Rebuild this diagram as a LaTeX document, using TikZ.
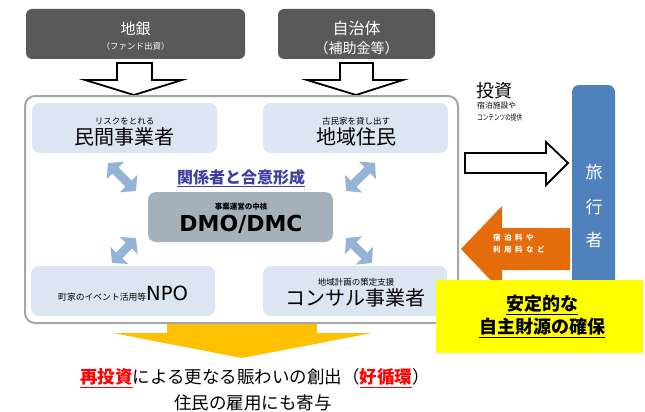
\documentclass[tikz,border=0pt]{standalone}
\usepackage{fontspec}
\setmainfont{Noto Sans CJK JP}
\newfontfamily\lat{DejaVu Sans}
\usetikzlibrary{arrows.meta}
\definecolor{topgray}{HTML}{595959}
\definecolor{lightblue}{HTML}{DCE6F2}
\definecolor{dmogray}{HTML}{A5B1BA}
\definecolor{arrowblue}{HTML}{95B3D7}
\definecolor{outergray}{HTML}{A6A6A6}
\definecolor{travblue}{HTML}{4F81BD}
\definecolor{orangeA}{HTML}{E46C0A}
\definecolor{goldA}{HTML}{FFC000}
\definecolor{yellowA}{HTML}{FFFF00}
\definecolor{kanblue}{HTML}{3F3FA0}
\definecolor{redA}{HTML}{FF0000}
\newcommand\fsz[1]{\fontsize{#1}{#1}\selectfont}
\begin{document}
\begin{tikzpicture}[x=1pt,y=-1pt,
  topbox/.style={fill=topgray, rounded corners=6pt, minimum width=219pt, minimum height=50pt, inner sep=0},
  lbox/.style={fill=lightblue, rounded corners=8pt, minimum width=185pt, minimum height=50pt, inner sep=0},
  txt/.style={inner sep=0, anchor=center},
  blockarrow/.style={draw=black, line width=1.8pt, fill=white, line join=miter},
  dblarrow/.style={draw=arrowblue, line width=8.5pt, {Triangle[width=24pt,length=10.5pt]}-{Triangle[width=24pt,length=10.5pt]}}
]
\useasboundingbox (0,0) rectangle (645,412);
\fill[white] (0,0) rectangle (645,412);

% top boxes
\node[topbox] (bank) at (135.5,34) {};
\node[topbox, minimum width=157pt] (gov) at (356.5,34) {};
\node[txt,text=white] (bankt) at (135.5,29) {\fsz{15}地銀};
\node[txt,text=white] (banks) at (135.5,46) {\fsz{8.5}（ファンド出資）};
\node[txt,text=white] (govt) at (356.5,28) {\fsz{16}自治体};
\node[txt,text=white] (govs) at (356.5,48) {\fsz{14}（補助金等）};

% white down arrows
\draw[blockarrow] (117,63) -- (152,63) -- (152,80) -- (182,80) -- (134,95) -- (85,80) -- (117,80) -- cycle;
\draw[blockarrow] (340,63) -- (373,63) -- (373,80) -- (403,80) -- (356,95) -- (307,80) -- (340,80) -- cycle;

% gold arrow
\fill[goldA] (167,318) -- (317,318) -- (317,333) -- (372,333) -- (242,358) -- (113,333) -- (167,333) -- cycle;

% outer box
\draw[outergray, line width=2pt, fill=white, rounded corners=10pt] (25,96) rectangle (458,323);

% inner boxes
\node[lbox] (minkan) at (124.5,128) {};
\node[lbox] (jumin) at (355.5,128) {};
\node[lbox, fill=dmogray] (dmo) at (240.5,217) {};
\node[lbox, minimum width=184pt] (npo) at (123,291) {};
\node[lbox, minimum width=184pt] (consul) at (355,291) {};

\node[txt] (minkans) at (124.5,121) {\fsz{8.5}リスクをとれる};
\node[txt] (minkant) at (124.5,137) {\fsz{20}民間事業者};
\node[txt] (jumins) at (356,121) {\fsz{8.5}古民家を貸し出す};
\node[txt] (jumint) at (356,137) {\fsz{20}地域住民};
\node[txt] (dmos) at (241,207) {\fsz{7.5}\bfseries 事業運営の中核};
\node[txt] (dmot) at (241,224) {\lat\bfseries\fsz{22}DMO/DMC};
\node[txt, anchor=base west] (npot) at (58,300) {{\fsz{8.8}町家のイベント活用等}{\lat\fsz{19.5}NPO}};
\node[txt] (consuls) at (356,282) {\fsz{8.5}地域計画の策定支援};
\node[txt] (consult) at (355,298) {\fsz{20}コンサル事業者};

\node[txt, text=kanblue] (goui) at (241,178) {\fsz{16}\bfseries\underline{関係者と合意形成}};

% double arrows
\coordinate (ul1) at (108,163); \coordinate (ul2) at (136,191);
\coordinate (ur1) at (375,163); \coordinate (ur2) at (346,191);
\coordinate (ll1) at (136,238); \coordinate (ll2) at (112,263);
\coordinate (lr1) at (346,238); \coordinate (lr2) at (372,263);
\draw[dblarrow] (ul1) -- (ul2);
\draw[dblarrow] (ur1) -- (ur2);
\draw[dblarrow] (ll1) -- (ll2);
\draw[dblarrow] (lr1) -- (lr2);

% travellers
\node[fill=travblue, rounded corners=7pt, minimum width=43pt, minimum height=215pt, inner sep=0] (trav) at (593.5,192.5) {};
\node[txt, text=white] (t1) at (594,172) {\fsz{17}旅};
\node[txt, text=white] (t2) at (594,207) {\fsz{17}行};
\node[txt, text=white] (t3) at (594,240) {\fsz{17}者};

% investment arrow and text
\draw[blockarrow] (465,153) -- (546,153) -- (546,142) -- (568,163) -- (546,185) -- (546,173) -- (465,173) -- cycle;
\node[txt, anchor=west] (inv) at (476,91) {\fsz{18}投資};
\node[txt, anchor=west] (inv1) at (477,106) {\fsz{7.8}宿泊施設や};
\node[txt, anchor=west] (inv2) at (477,118) {\scalebox{0.72}[1]{\fsz{7.8}コンテンツの提供}};

% orange arrow
\fill[orangeA] (570,228) -- (502,228) -- (502,206) -- (461,249) -- (502,292) -- (502,270) -- (570,270) -- cycle;
\node[txt, anchor=west, text=white] (fee1) at (493,238) {\fsz{7.5}\bfseries 宿\kern3.5pt 泊\kern3.5pt 料\kern3.5pt や};
\node[txt, anchor=west, text=white] (fee2) at (493,250) {\fsz{7.5}\bfseries 利\kern3.5pt 用\kern3.5pt 料\kern3.5pt な\kern3.5pt ど};

% yellow box
\fill[yellowA] (436,280) rectangle (643,353);
\node[txt] (y1) at (542,305) {\fsz{18}\bfseries\underline{安定的な}};
\node[txt] (y2) at (542,328) {\fsz{18}\bfseries\underline{自主財源の確保}};

% bottom text
\node[txt] (b1) at (255,378) {\fsz{17.5}\textcolor{redA}{\bfseries\underline{再投資}}による更なる賑わいの創出（\textcolor{redA}{\bfseries\underline{好循環}}）};
\node[txt] (b2) at (253,403) {\fsz{17.5}住民の雇用にも寄与};
\end{tikzpicture}
\end{document}
